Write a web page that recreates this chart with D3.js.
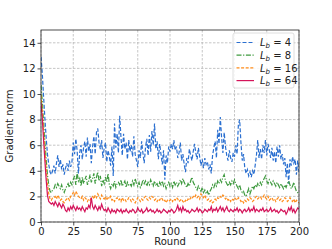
<!DOCTYPE html>
<html>
<head>
<meta charset="utf-8">
<script src="https://cdn.jsdelivr.net/npm/d3@7"></script>
<style>
    body { margin: 0; background: #fff; }
    text { font-family: "DejaVu Sans", sans-serif; fill: #222; }
</style>
</head>
<body>
<div id="chart"></div>
<script>
const xTicks = [0, 25, 50, 75, 100, 125, 150, 175, 200];
const yTicks = [0, 2, 4, 6, 8, 10, 12, 14];
const seriesLabels = ['4', '8', '16', '64'];

const normLb4 = [
    12.9, 11.6, 9.8, 8.1, 6.6, 5.3, 4.5, 3.9, 3.7, 4.0,
    4.4, 3.8, 4.6, 5.2, 4.3, 4.9, 4.1, 4.5, 3.7, 4.2,
    4.6, 4.0, 4.8, 4.3, 4.7, 6.2, 5.3, 6.5, 5.6, 3.8,
    5.4, 6.0, 4.9, 5.8, 6.3, 5.1, 6.6, 5.5, 6.1, 4.6,
    5.9, 6.7, 5.3, 7.0, 7.3, 6.2, 5.7, 6.4, 5.0, 5.8,
    6.2, 4.7, 5.6, 5.1, 4.4, 5.9, 3.6, 7.7, 5.8, 6.9,
    5.4, 8.3, 6.6, 5.2, 6.9, 5.7, 6.2, 4.9, 6.4, 5.5,
    6.0, 5.1, 6.7, 5.3, 4.8, 4.3, 5.6, 5.0, 6.3, 5.4,
    4.6, 5.8, 6.5, 5.2, 6.8, 5.5, 7.1, 6.0, 7.7, 5.7,
    6.3, 4.9, 6.1, 5.3, 4.5, 5.6, 3.3, 5.2, 4.6, 5.9,
    5.5, 6.1, 5.7, 6.4, 5.6, 5.9, 5.0, 5.4, 6.2, 4.8,
    5.3, 4.5, 3.9, 5.0, 4.6, 5.7, 5.2, 4.8, 5.5, 6.1,
    5.4, 4.9, 5.8, 5.1, 4.4, 4.9, 4.2, 5.0, 4.5, 4.7,
    4.1, 4.5, 3.8, 5.2, 5.8, 6.3, 5.0, 7.2, 6.1, 8.2,
    6.6, 5.4, 7.0, 5.9, 5.2, 4.8, 5.6, 5.0, 4.7, 5.4,
    5.1, 6.0, 5.3, 7.6, 8.0, 6.2, 4.8, 5.3, 4.2, 3.8,
    4.1, 3.6, 3.9, 3.5, 4.0, 3.7, 4.4, 5.2, 6.4, 5.0,
    5.7, 4.9, 6.0, 5.4, 6.4, 5.2, 6.1, 5.6, 5.0, 5.8,
    4.8, 5.5, 4.6, 5.9, 5.1, 6.0, 4.9, 5.3, 4.5, 5.0,
    3.5, 4.6, 3.0, 4.9, 4.4, 5.1, 4.6, 4.9, 3.7, 4.8,
    3.9
];

const normLb8 = [
    10.7, 9.4, 7.8, 6.3, 4.9, 3.7, 2.9, 2.4, 2.3, 2.5,
    2.6, 2.9, 2.7, 3.0, 2.8, 2.6, 2.9, 2.5, 2.3, 2.6,
    2.8, 3.0, 2.7, 3.1, 2.9, 3.3, 3.6, 2.9, 3.9, 3.2,
    3.4, 2.8, 3.5, 3.0, 3.3, 3.6, 2.9, 3.2, 3.7, 3.1,
    3.4, 3.8, 3.0, 3.5, 3.9, 3.2, 3.6, 2.8, 3.3, 3.0,
    3.5, 3.1, 3.8, 2.9, 2.6, 3.0, 2.8, 3.2, 2.7, 3.0,
    3.1, 2.9, 3.3, 2.8, 3.0, 3.2, 2.7, 3.1, 2.9, 3.0,
    2.8, 3.2, 2.9, 3.4, 3.0, 2.8, 3.1, 2.7, 2.9, 3.3,
    3.0, 3.2, 2.8, 3.1, 2.9, 3.3, 3.0, 2.8, 3.2, 2.9,
    3.0, 2.7, 3.1, 2.9, 3.2, 2.8, 3.0, 2.6, 2.9, 3.1,
    2.8, 3.0, 2.7, 3.2, 2.9, 3.1, 2.8, 3.0, 3.3, 3.0,
    3.4, 3.1, 2.9, 2.7, 3.0, 2.8, 3.2, 3.5, 3.1, 2.9,
    2.7, 2.5, 2.8, 2.6, 2.4, 2.7, 2.3, 2.5, 2.2, 2.4,
    2.1, 2.4, 2.6, 2.9, 2.7, 3.0, 2.8, 3.2, 3.0, 3.3,
    3.1, 3.5, 3.7, 3.2, 3.0, 2.8, 3.1, 2.9, 3.2, 3.0,
    3.3, 3.0, 2.8, 2.6, 2.9, 2.5, 2.3, 2.4, 2.1, 2.0,
    2.3, 2.6, 2.2, 2.5, 2.8, 2.6, 2.9, 2.7, 3.0, 2.8,
    3.1, 2.9, 3.2, 3.4, 3.6, 3.2, 3.0, 3.3, 3.1, 2.9,
    3.2, 3.0, 2.8, 3.1, 2.9, 2.7, 3.0, 2.8, 2.6, 2.9,
    2.7, 3.0, 3.2, 2.9, 2.6, 2.8, 3.1, 2.7, 2.4, 2.3,
    2.2
];

const normLb16 = [
    9.9, 8.7, 7.1, 5.6, 4.2, 3.0, 2.2, 1.8, 1.7, 1.9,
    1.9, 2.0, 1.8, 2.1, 1.9, 1.7, 1.8, 1.6, 1.5, 1.7,
    1.8, 1.9, 1.7, 2.0, 2.1, 2.3, 2.1, 2.4, 2.2, 2.0,
    1.9, 1.8, 2.0, 1.7, 1.9, 1.8, 1.6, 1.8, 1.7, 1.9,
    2.0, 1.8, 2.1, 1.9, 2.2, 2.0, 1.8, 2.1, 1.9, 1.8,
    2.0, 1.7, 1.9, 1.8, 2.0, 1.7, 1.8, 1.6, 1.8, 1.9,
    1.7, 1.8, 1.6, 1.9, 1.7, 1.8, 1.6, 1.7, 1.9, 1.8,
    1.6, 1.8, 1.7, 1.5, 1.7, 1.9, 1.8, 1.6, 1.8, 1.7,
    1.9, 2.0, 1.8, 1.7, 1.9, 1.8, 2.0, 1.9, 1.7, 1.8,
    1.6, 1.8, 1.7, 1.9, 1.8, 1.6, 1.7, 1.5, 1.7, 1.6,
    1.7, 1.8, 1.6, 1.8, 1.7, 1.9, 1.8, 1.6, 1.7, 1.8,
    1.6, 1.5, 1.7, 1.6, 1.8, 1.7, 1.9, 1.8, 2.0, 1.9,
    2.1, 1.9, 2.0, 1.8, 2.2, 2.0, 1.9, 2.1, 1.8, 1.7,
    1.8, 1.6, 1.7, 1.5, 1.6, 1.8, 1.7, 1.9, 1.8, 2.0,
    1.9, 2.1, 2.0, 1.8, 1.9, 1.7, 1.8, 1.6, 1.8, 1.7,
    1.9, 1.8, 1.7, 1.9, 1.8, 1.6, 1.7, 1.5, 1.7, 1.6,
    1.8, 1.7, 1.9, 1.8, 1.6, 1.7, 1.9, 2.0, 1.8, 1.9,
    2.0, 1.8, 1.9, 2.1, 1.9, 1.8, 2.0, 1.7, 1.8, 1.9,
    1.7, 1.8, 1.6, 1.8, 1.9, 1.7, 1.8, 1.6, 1.7, 1.9,
    1.8, 1.6, 1.7, 1.9, 1.7, 1.6, 1.8, 1.5, 1.7, 1.6,
    1.5
];

const normLb64 = [
    9.3, 8.1, 6.4, 4.8, 3.3, 2.1, 1.6, 1.5, 1.4, 1.5,
    1.3, 1.6, 1.4, 1.2, 1.5, 1.3, 1.1, 1.4, 1.2, 0.9,
    0.8, 1.1, 0.9, 1.2, 1.0, 1.3, 1.1, 0.9, 1.2, 1.0,
    1.1, 0.9, 1.2, 1.0, 0.8, 1.1, 1.0, 1.3, 1.1, 1.9,
    1.2, 1.0, 1.3, 1.1, 0.9, 1.2, 1.0, 1.4, 1.1, 0.9,
    1.0, 0.8, 1.1, 0.9, 0.7, 1.0, 0.8, 0.9, 0.7, 1.0,
    0.9, 0.8, 1.0, 0.7, 0.9, 0.8, 1.0, 0.8, 0.7, 0.9,
    0.8, 1.0, 0.9, 0.7, 0.8, 1.1, 0.9, 0.8, 1.0, 0.7,
    0.8, 0.9, 1.1, 0.8, 0.9, 1.0, 0.8, 0.9, 0.7, 0.8,
    1.0, 0.8, 0.9, 0.7, 0.8, 1.0, 0.9, 0.8, 0.7, 0.9,
    0.8, 1.0, 0.9, 0.7, 0.8, 1.0, 1.3, 0.9, 1.1, 0.8,
    1.2, 0.9, 1.0, 0.8, 0.9, 0.7, 0.8, 1.0, 0.9, 0.8,
    0.9, 1.1, 0.8, 1.0, 0.9, 0.7, 0.8, 1.0, 0.9, 0.8,
    1.0, 0.9, 1.2, 0.8, 1.0, 0.9, 1.1, 0.8, 1.0, 1.2,
    0.9, 1.1, 0.8, 1.0, 1.2, 0.9, 0.8, 1.0, 0.9, 0.8,
    1.0, 0.9, 1.1, 0.8, 1.0, 0.9, 0.7, 0.9, 1.0, 0.8,
    0.9, 1.1, 0.8, 1.0, 0.9, 1.2, 0.8, 1.0, 0.9, 0.8,
    1.0, 0.9, 1.1, 0.8, 0.9, 1.0, 0.8, 0.9, 1.1, 0.8,
    0.9, 1.0, 0.8, 0.9, 0.7, 0.8, 1.0, 0.9, 0.8, 0.9,
    0.6, 0.8, 1.1, 0.9, 1.2, 0.8, 1.0, 0.7, 0.9, 1.1,
    1.0
];

const seriesValues = [normLb4, normLb8, normLb16, normLb64];
const colors = ['#2a6fd0', '#3f9a3f', '#ff8c1a', '#d4145a'];
const dashes = ['4,2', '5,1.6,1.2,1.6', '3,1.6', null];

const width = 332, height = 249;
const margin = { top: 30, right: 33, bottom: 27, left: 41 };
const iw = width - margin.left - margin.right;
const ih = height - margin.top - margin.bottom;

const svg = d3.select('#chart').append('svg')
    .attr('width', width)
    .attr('height', height);

const x = d3.scaleLinear().domain([0, 200]).range([0, iw]);
const y = d3.scaleLinear().domain([0, 15]).range([ih, 0]);

const g = svg.append('g').attr('transform', `translate(${margin.left},${margin.top})`);

// grid
g.append('g').selectAll('line').data(xTicks).join('line')
    .attr('x1', d => x(d)).attr('x2', d => x(d))
    .attr('y1', 0).attr('y2', ih)
    .attr('stroke', '#b8b8b8').attr('stroke-width', 0.8)
    .attr('stroke-dasharray', '2.5,1.5');
g.append('g').selectAll('line').data(yTicks).join('line')
    .attr('x1', 0).attr('x2', iw)
    .attr('y1', d => y(d)).attr('y2', d => y(d))
    .attr('stroke', '#b8b8b8').attr('stroke-width', 0.8)
    .attr('stroke-dasharray', '2.5,1.5');

g.append('defs').append('clipPath').attr('id', 'clip')
    .append('rect').attr('width', iw).attr('height', ih);

const line = d3.line()
    .x((d, i) => x(i))
    .y(d => y(d));

const lines = g.append('g').attr('clip-path', 'url(#clip)');
seriesValues.forEach((vals, k) => {
    lines.append('path')
        .datum(vals)
        .attr('d', line)
        .attr('fill', 'none')
        .attr('stroke', colors[k])
        .attr('stroke-width', 1.2)
        .attr('stroke-dasharray', dashes[k]);
});

// axes
const xAxis = g.append('g').attr('transform', `translate(0,${ih})`)
    .call(d3.axisBottom(x).tickValues(xTicks).tickSize(3.5).tickPadding(2));
const yAxis = g.append('g')
    .call(d3.axisLeft(y).tickValues(yTicks).tickSize(3.5).tickPadding(2));
[xAxis, yAxis].forEach(a => {
    a.select('.domain').remove();
    a.selectAll('line').attr('stroke', '#222').attr('stroke-width', 0.8);
    a.selectAll('text').style('font-size', '10px').style('font-family', '"DejaVu Sans", sans-serif').attr('fill', '#222');
});

g.append('rect')
    .attr('width', iw).attr('height', ih)
    .attr('fill', 'none').attr('stroke', '#222').attr('stroke-width', 0.8);

svg.append('text')
    .attr('x', margin.left + iw / 2).attr('y', 245)
    .attr('text-anchor', 'middle')
    .style('font-size', '10px')
    .text('Round');

svg.append('text')
    .attr('transform', `translate(13,${margin.top + ih / 2}) rotate(-90)`)
    .attr('text-anchor', 'middle')
    .style('font-size', '10px')
    .text('Gradient norm');

// legend
const lg = svg.append('g').attr('transform', 'translate(233,33)');
lg.append('rect')
    .attr('width', 61).attr('height', 55).attr('rx', 2)
    .attr('fill', 'white').attr('fill-opacity', 0.85)
    .attr('stroke', '#d6d6d6').attr('stroke-width', 0.8);
seriesLabels.forEach((lab, k) => {
    const yy = 9.5 + k * 12.7;
    lg.append('line')
        .attr('x1', 3.5).attr('x2', 21)
        .attr('y1', yy).attr('y2', yy)
        .attr('stroke', colors[k]).attr('stroke-width', 1.2)
        .attr('stroke-dasharray', dashes[k]);
    const t = lg.append('text')
        .attr('x', 27).attr('y', yy + 3.6)
        .style('font-size', '10px');
    t.append('tspan').style('font-style', 'italic').text('L');
    t.append('tspan').style('font-style', 'italic').style('font-size', '7px')
        .attr('dy', 2).text('b');
    t.append('tspan').attr('dy', -2).text(' = ' + lab);
});
</script>
</body>
</html>
